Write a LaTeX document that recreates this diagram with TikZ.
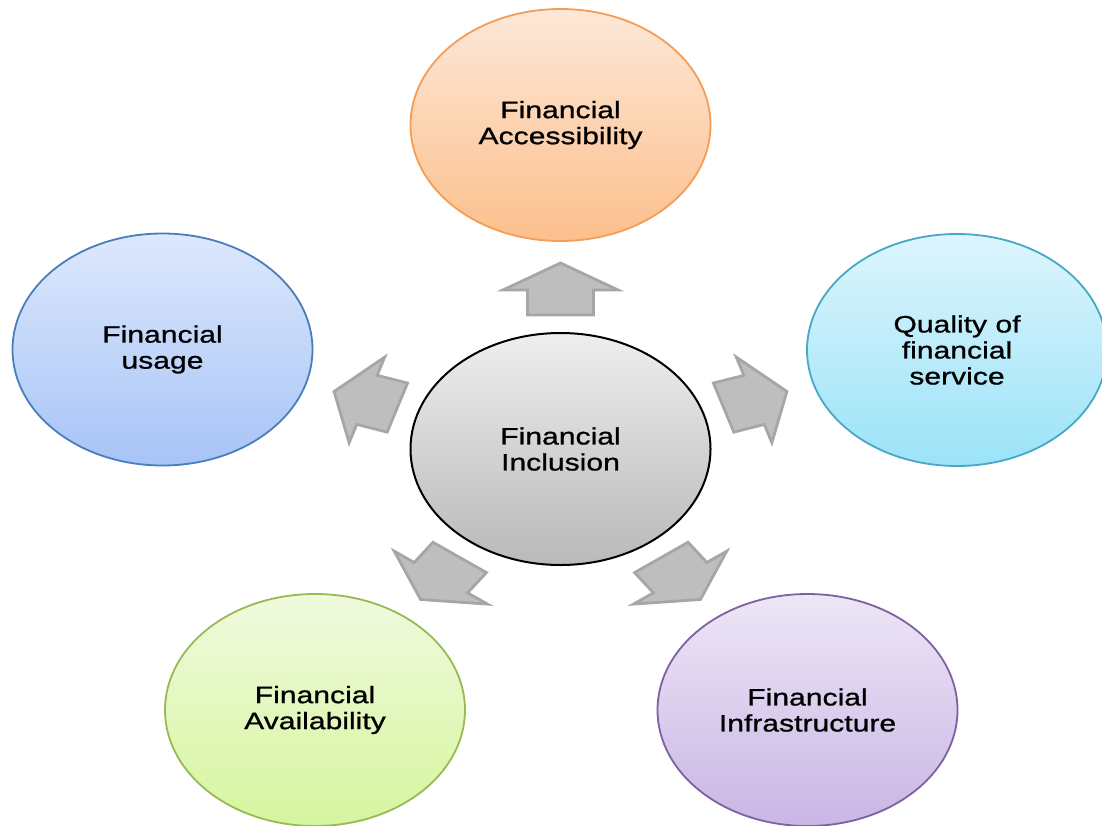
\documentclass[tikz,border=0pt]{standalone}
\usepackage{fontspec}
\setmainfont{Liberation Sans}[FakeStretch=1.27, FakeBold=0.9]
\usetikzlibrary{shapes.geometric}

\definecolor{accTop}{HTML}{FDE8D8}
\definecolor{accBot}{HTML}{FCBF8C}
\definecolor{accEdge}{HTML}{F59D56}
\definecolor{useTop}{HTML}{DDE8FC}
\definecolor{useBot}{HTML}{A7C4F7}
\definecolor{useEdge}{HTML}{4A7EBB}
\definecolor{qualTop}{HTML}{DDF5FD}
\definecolor{qualBot}{HTML}{9BE3F8}
\definecolor{qualEdge}{HTML}{45A8C4}
\definecolor{availTop}{HTML}{F0FADE}
\definecolor{availBot}{HTML}{D6F59E}
\definecolor{availEdge}{HTML}{98B954}
\definecolor{infraTop}{HTML}{EDE6F6}
\definecolor{infraBot}{HTML}{C9B6E5}
\definecolor{infraEdge}{HTML}{7F60A0}
\definecolor{incTop}{HTML}{EEEEEE}
\definecolor{incBot}{HTML}{B9B9B9}
\definecolor{arrowFill}{HTML}{BEBEBE}
\definecolor{arrowEdge}{HTML}{A6A6A6}

\tikzset{
  bubble/.style={ellipse, minimum width=300pt, minimum height=232pt,
    inner sep=0pt, line width=1.8pt, align=center,
    font=\fontsize{23.7}{26}\selectfont, text=black},
  blockarrow/.style={fill=arrowFill, draw=arrowEdge, line width=2.8pt,
    line join=miter},
}

\begin{document}
\begin{tikzpicture}[x=1pt, y=-1pt]
  \fill[white] (0,0) rectangle (1102,825);
  \useasboundingbox (0,0) rectangle (1102,825);

  % central concept
  \node[bubble, draw=black, line width=2pt, top color=incTop, bottom color=incBot]
    (inc) at (560.5,449) {Financial\\Inclusion};

  % the five dimensions
  \node[bubble, draw=accEdge, top color=accTop, bottom color=accBot]
    (acc) at (560.5,125) {Financial\\Accessibility};
  \node[bubble, draw=useEdge, top color=useTop, bottom color=useBot]
    (use) at (162.5,349.5) {Financial\\usage};
  \node[bubble, draw=qualEdge, top color=qualTop, bottom color=qualBot]
    (qual) at (957,350) {Quality of\\financial\\service};
  \node[bubble, draw=availEdge, top color=availTop, bottom color=availBot]
    (avail) at (315,710) {Financial\\Availability};
  \node[bubble, draw=infraEdge, top color=infraTop, bottom color=infraBot]
    (infra) at (807.5,710) {Financial\\Infrastructure};

  % block arrows radiating from the centre
  \begin{scope}[shift={(inc.center)}, xscale=1.28]
    \foreach \a in {90,162,234,306,18}
      \draw[blockarrow, rotate=\a]
        (134,-25.8) -- (159,-25.8) -- (159,-45) -- (186,0)
        -- (159,45) -- (159,25.8) -- (134,25.8) -- cycle;
  \end{scope}
\end{tikzpicture}
\end{document}
